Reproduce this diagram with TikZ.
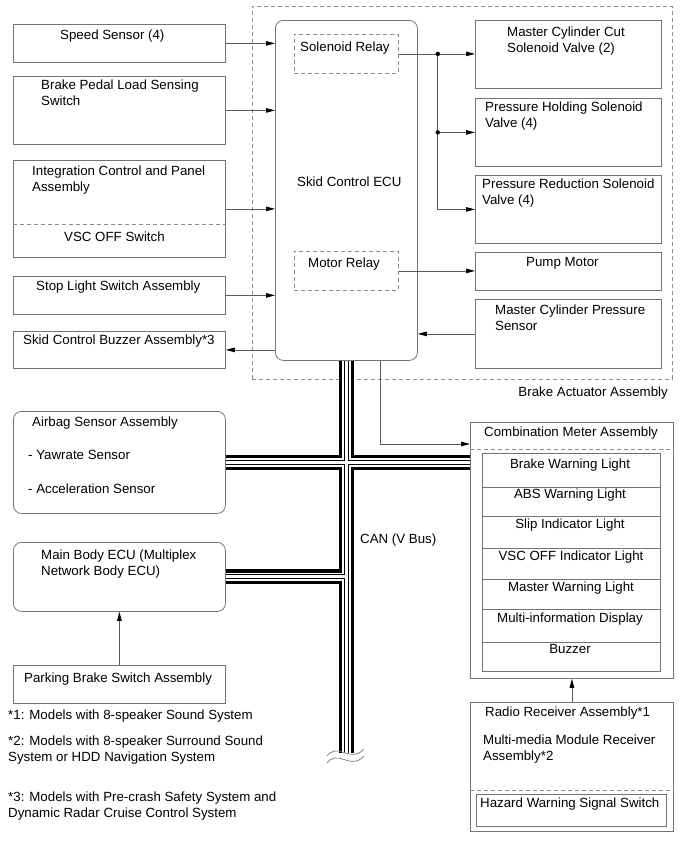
\documentclass[tikz,border=0pt]{standalone}
\usepackage{fontspec}
\setmainfont{Liberation Sans}
\usetikzlibrary{arrows.meta,calc}
\begin{document}
\begin{tikzpicture}[x=1pt,y=-1pt,
  box/.style={draw=black!55, line width=0.8pt, inner sep=0pt, anchor=north west},
  rbox/.style={box, rounded corners=8pt},
  dashln/.style={draw=black!45, line width=0.8pt, dash pattern=on 4pt off 3pt},
  dbox/.style={dashln, inner sep=0pt, anchor=north west},
  txt/.style={anchor=north west, inner sep=0pt, align=left, yshift=11.2pt, font=\fontsize{13.3}{16}\selectfont, execute at begin node=\strut},
  ctxt/.style={anchor=base, inner sep=0pt, font=\fontsize{13.3}{16}\selectfont},
  conn/.style={draw=black!65, line width=0.8pt},
  arr/.style={conn, -{Triangle[length=9pt,width=4.5pt,black]}},
]
\useasboundingbox (0,0) rectangle (690,854);

% ---- brake actuator assembly ----
\node[dbox, minimum width=420pt, minimum height=373pt] (bact) at (252,6) {};
\node[anchor=base east, inner sep=0pt, font=\fontsize{13.3}{16}\selectfont] (tbact) at (668,396) {Brake Actuator Assembly};

\node[rbox, fill=white, minimum width=142pt, minimum height=340pt] (ecu) at (275,20) {};
\node[txt] (tecu) at (297,186) {Skid Control ECU};
\node[dbox, minimum width=104pt, minimum height=39pt] (solrel) at (294,34) {};
\node[txt] (tsolrel) at (300,51) {Solenoid Relay};
\node[dbox, minimum width=104pt, minimum height=39pt] (motrel) at (294,251) {};
\node[txt] (tmotrel) at (308,267) {Motor Relay};

\node[box, minimum width=186pt, minimum height=68pt] (mcc) at (475,20) {};
\node[txt] (tmcc) at (507,38) {Master Cylinder Cut\\Solenoid Valve (2)};
\node[box, minimum width=186pt, minimum height=68pt] (ph) at (475,98) {};
\node[txt] (tph) at (485,113) {Pressure Holding Solenoid\\Valve (4)};
\node[box, minimum width=186pt, minimum height=68pt] (pr) at (475,175) {};
\node[txt] (tpr) at (482,190) {Pressure Reduction Solenoid\\Valve (4)};
\node[box, minimum width=186pt, minimum height=38pt] (pump) at (475,252) {};
\node[txt] (tpump) at (526,266) {Pump Motor};
\node[box, minimum width=186pt, minimum height=69pt] (mcp) at (475,299) {};
\node[txt] (tmcp) at (495,316) {Master Cylinder Pressure\\Sensor};

% ---- left inputs ----
\node[box, minimum width=212pt, minimum height=38pt] (speed) at (13,24) {};
\node[txt] (tspeed) at (60,39) {Speed Sensor (4)};
\node[box, minimum width=212pt, minimum height=68pt] (pedal) at (13,76) {};
\node[txt] (tpedal) at (41,91) {Brake Pedal Load Sensing\\Switch};
\node[box, minimum width=212pt, minimum height=97pt] (integ) at (13,160) {};
\node[txt] (tinteg) at (32,177) {Integration Control and Panel\\Assembly};
\draw[dashln] (integ.west |- 0,224) -- (integ.east |- 0,224);
\node[txt] (tvsc) at (64,241) {VSC OFF Switch};
\node[box, minimum width=212pt, minimum height=38pt] (stop) at (13,276) {};
\node[txt] (tstop) at (36,290) {Stop Light Switch Assembly};
\node[box, minimum width=212pt, minimum height=37pt] (buzz) at (13,331) {};
\node[txt] (tbuzz) at (23,344) {Skid Control Buzzer Assembly*3};

% ---- lower left ----
\node[rbox, minimum width=212pt, minimum height=102pt] (airbag) at (13,411) {};
\node[txt] (tair1) at (32,426) {Airbag Sensor Assembly};
\node[txt] (tair2) at (28,459) {- Yawrate Sensor};
\node[txt] (tair3) at (28,493) {- Acceleration Sensor};
\node[rbox, minimum width=212pt, minimum height=69pt] (mainbody) at (13,542) {};
\node[txt] (tmain) at (41,561) {Main Body ECU (Multiplex\\Network Body ECU)};
\node[box, minimum width=212pt, minimum height=38pt] (parking) at (13,665) {};
\node[txt] (tpark) at (24,682) {Parking Brake Switch Assembly};

\node[txt] (fn1) at (8,719) {*1: Models with 8-speaker Sound System};
\node[txt] (fn2) at (8,747) {*2: Models with 8-speaker Surround Sound\\System or HDD Navigation System};
\node[txt] (fn3) at (8,803) {*3: Models with Pre-crash Safety System and\\Dynamic Radar Cruise Control System};

% ---- combination meter ----
\node[box, minimum width=203pt, minimum height=256pt] (meter) at (470,422) {};
\node[txt] (tmeter) at (484,436) {Combination Meter Assembly};
\draw[dashln] (meter.west |- 0,449) -- (meter.east |- 0,449);
\node[box, minimum width=178pt, minimum height=218pt] (meterin) at (482,453) {};
\foreach \yy in {487,516,548,579,609,642}
  \draw[draw=black!55, line width=0.8pt] (meterin.west |- 0,\yy) -- (meterin.east |- 0,\yy);
\node[ctxt] (m1) at (570,468) {Brake Warning Light};
\node[ctxt] (m2) at (570,498) {ABS Warning Light};
\node[ctxt] (m3) at (570,528) {Slip Indicator Light};
\node[ctxt] (m4) at (571,560) {VSC OFF Indicator Light};
\node[ctxt] (m5) at (571,591) {Master Warning Light};
\node[ctxt] (m6) at (570,622) {Multi-information Display};
\node[ctxt] (m7) at (570,653) {Buzzer};

\node[box, minimum width=203pt, minimum height=129pt] (radio) at (470,702) {};
\node[txt] (tradio) at (485,716) {Radio Receiver Assembly*1};
\node[txt] (tmm) at (483,746) {Multi-media Module Receiver\\Assembly*2};
\draw[dashln] (radio.west |- 0,790) -- (radio.east |- 0,790);
\node[box, minimum width=190pt, minimum height=32pt] (hazard) at (476,794) {};
\node[txt] (thaz) at (480,807) {Hazard Warning Signal Switch};

\node[txt] (tcan) at (360,543) {CAN (V Bus)};

% ---- connectors ----
\draw[arr] (speed.east) -- (speed.east -| ecu.west);
\draw[arr] (pedal.east) -- (pedal.east -| ecu.west);
\draw[arr] (integ.east) -- (integ.east -| ecu.west);
\draw[arr] (stop.east) -- (stop.east -| ecu.west);
\draw[arr] (buzz.east -| ecu.west) -- (buzz.east);
\draw[arr] (solrel.east) -- (solrel.east -| mcc.west);
\coordinate (j1) at ($(solrel.east)+(39,0)$);
\coordinate (j2) at (j1 |- ph.west);
\draw[arr] (j1) -- (j1 |- pr.west) -- (pr.west);
\draw[arr] (j2) -- (ph.west);
\fill (j1) circle (2.2pt);
\fill (j2) circle (2.2pt);
\draw[arr] (motrel.east) -- (motrel.east -| pump.west);
\draw[arr] (mcp.west) -- (mcp.west -| ecu.east);
\coordinate (e1) at ($(ecu.south)+(34,0)$);
\coordinate (e2) at (e1 |- 0,444);
\draw[arr] (e1) -- (e2) -- (e2 -| meter.west);
\draw[arr] (radio.north) -- (radio.north |- meter.south);
\draw[arr] (parking.north) -- (mainbody.south);

% ---- CAN bus ----
\coordinate (bustop) at ($(ecu.south)+(0,0.5)$);
\coordinate (busend) at (ecu.south |- 0,753);
\coordinate (x1) at (ecu.south |- mainbody.east);
\foreach \w/\c in {15/black,8.5/white,5/black,3/white}{
  \draw[line width=\w pt, draw=\c] (bustop) -- (busend)
    (airbag.east) -- (airbag.east -| meter.west)
    (mainbody.east) -- (x1);
}
\draw[draw=black!55, line width=0.7pt] (327,756) .. controls (331,750) and (338,750) .. (344,752.5) .. controls (350,755) and (358,756) .. (364,749);
\draw[draw=black!55, line width=0.7pt] (327,763) .. controls (331,757) and (338,757) .. (344,759.5) .. controls (350,762) and (358,763) .. (364,756);
\end{tikzpicture}
\end{document}
